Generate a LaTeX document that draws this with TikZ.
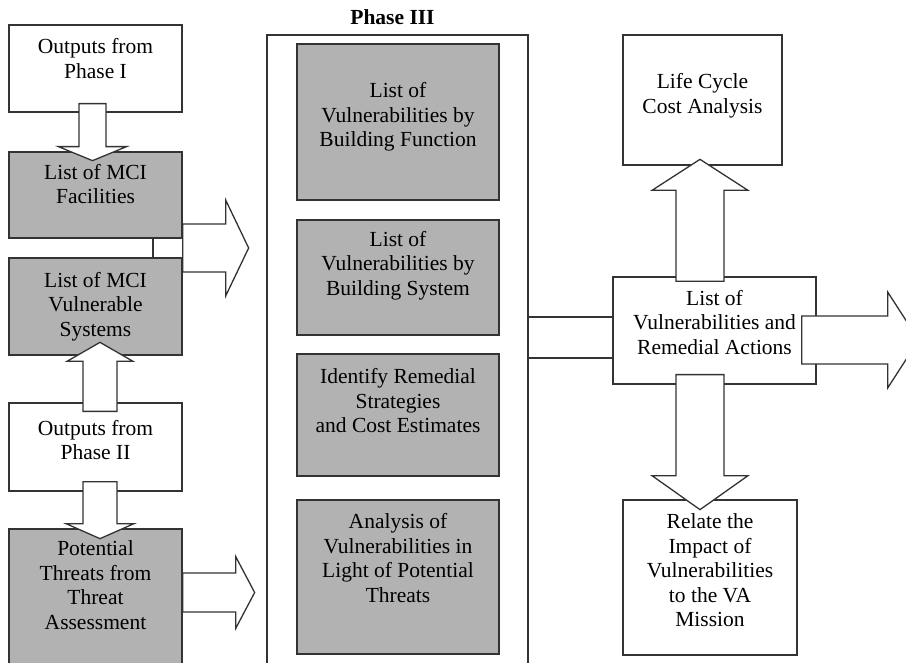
\documentclass[tikz,border=0pt]{standalone}
\usepackage{fontspec}
\setmainfont{Liberation Serif}
\usetikzlibrary{calc,positioning}

\newcommand{\boxfont}{\fontsize{21.5}{24.5}\selectfont}
% block arrow: start, angle, length, shaft half width, head half width, head length
\newcommand{\blockarrow}[6]{%
  \begin{scope}[shift={(#1)}, rotate=#2]
    \draw[arrowline] (0,-#4) -- ({#3-#6},-#4) -- ({#3-#6},-#5) -- (#3,0)
      -- ({#3-#6},#5) -- ({#3-#6},#4) -- (0,#4) -- cycle;
  \end{scope}}

\tikzset{
  box/.style={draw=black!80, line width=1.3pt, rectangle, inner sep=0pt},
  whitebox/.style={box, fill=white},
  greybox/.style={box, fill=black!30},
  midbox/.style={greybox, minimum width=202pt},
  txt/.style={font=\boxfont, align=center, inner sep=0pt, text=black},
  arrowline/.style={draw=black!80, line width=1.3pt, fill=white, line join=miter},
}

\begin{document}
\begin{tikzpicture}[x=1pt, y=-1pt]
    \useasboundingbox (0,0) rectangle (906,663);
    \clip (0,0) rectangle (906,663);
    \fill[white] (0,0) rectangle (906,663);
    % Left column
    \node[whitebox, minimum width=173pt, minimum height=87pt,
          label={[txt, yshift=10pt]center:{Outputs from\\Phase I}}] (p1) at (95.5,68.5) {};
    \node[greybox, minimum width=173pt, minimum height=86pt,
          label={[txt, yshift=11pt]center:{List of MCI\\Facilities}}] (fac) at (95.5,195) {};
    \node[greybox, minimum width=173pt, minimum height=97pt,
          label={[txt, yshift=0pt]center:{List of MCI\\Vulnerable\\Systems}}] (sys) at (95.5,306.5) {};
    \node[whitebox, minimum width=173pt, minimum height=88pt,
          label={[txt, yshift=7pt]center:{Outputs from\\Phase II}}] (p2) at (95.5,447) {};
    \node[greybox, minimum width=173pt, minimum height=146pt,
          label={[txt, yshift=17pt]center:{Potential\\Threats from\\Threat\\Assessment}}] (thr) at (95.5,602) {};
    \draw[box] ($(fac.south)+(57.5,0)$) -- ($(sys.north)+(57.5,0)$);
    % Phase III
    \node[whitebox, minimum width=261pt, minimum height=645pt] (phase3) at (397.5,357.5) {};
    \node[txt, font=\boxfont\bfseries, above=9.5pt of phase3.north, xshift=-5pt] (ttl) {Phase III};
    \node[midbox, minimum height=156pt,
          label={[txt, yshift=5pt]center:{List of\\Vulnerabilities by\\Building Function}}] (b1) at (398,122) {};
    \node[midbox, minimum height=115pt,
          label={[txt, yshift=12pt]center:{List of\\Vulnerabilities by\\Building System}}] (b2) at (398,277.5) {};
    \node[midbox, minimum height=122pt,
          label={[txt, yshift=14pt]center:{Identify Remedial\\Strategies\\and Cost Estimates}}] (b3) at (398,415) {};
    \node[midbox, minimum height=154pt,
          label={[txt, yshift=19pt]center:{Analysis of\\Vulnerabilities in\\Light of Potential\\Threats}}] (b4) at (398,577) {};
    % Right column
    \node[whitebox, minimum width=159pt, minimum height=130pt,
          label={[txt, yshift=4pt]center:{Life Cycle\\Cost Analysis}}] (lcc) at (702.5,100) {};
    \node[whitebox, minimum width=203pt, minimum height=107pt,
          label={[txt, yshift=8pt]center:{List of\\Vulnerabilities and\\Remedial Actions}}] (central) at (714.5,330.5) {};
    \node[whitebox, minimum width=174pt, minimum height=155pt,
          label={[txt, yshift=7pt]center:{Relate the\\Impact of\\Vulnerabilities\\to the VA\\Mission}}] (relate) at (710,577.5) {};
    \coordinate (bt) at ($(central.west)+(0,-13.5)$);
    \coordinate (bb) at ($(central.west)+(0,27.5)$);
    \draw[box] (bt) -- (bt -| phase3.east);
    \draw[box] (bb) -- (bb -| phase3.east);
    % Block arrows
    \blockarrow{$(p1.south)+(-3,-9)$}{-90}{57}{13.5}{34}{14}
    \blockarrow{$(fac.east)+(0,53)$}{0}{66}{24}{48}{23}
    \blockarrow{$(p2.north)+(4.5,9)$}{90}{69}{17}{33}{19}
    \blockarrow{$(p2.south)+(4.5,-10)$}{-90}{57}{17}{34}{15}
    \blockarrow{$(thr.east)+(0,-9.5)$}{0}{72}{19.5}{36}{19}
    \blockarrow{$(central.north)+(-14.5,5)$}{90}{122}{24}{48}{31}
    \blockarrow{$(central.south)+(-14.5,-10)$}{-90}{135}{24}{48}{34}
    \blockarrow{$(central.east)+(-15,9.5)$}{0}{117}{24}{48}{31}
\end{tikzpicture}
\end{document}
